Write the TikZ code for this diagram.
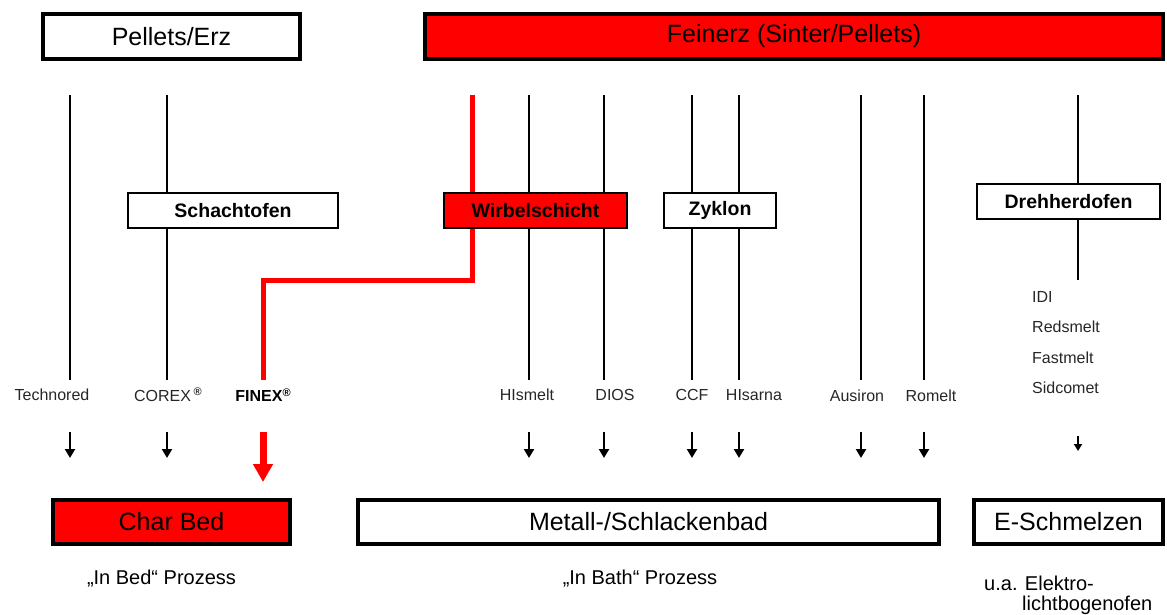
\documentclass[tikz,border=0pt]{standalone}
\usepackage{fontspec}
\setmainfont{Liberation Sans}
\usetikzlibrary{arrows.meta}
\definecolor{pred}{RGB}{255,0,0}
\tikzset{
  bigbox/.style={draw=black, line width=4pt, inner sep=0pt, font=\fontsize{25}{28}\selectfont},
  midbox/.style={draw=black, line width=2pt, fill=white, inner sep=0pt, font=\fontsize{19.5}{22}\selectfont\bfseries},
  vline/.style={line width=2.5pt, black},
  redline/.style={line width=5pt, pred},
  lbl/.style={inner sep=0pt, text=black!85, font=\fontsize{16}{18}\selectfont},
  note/.style={inner sep=0pt, font=\fontsize{20}{22}\selectfont},
  arr/.style={line width=2.5pt, -{Triangle[width=10pt,length=9pt]}},
  smallarr/.style={line width=2.2pt, -{Triangle[width=8pt,length=7pt]}},
  redarr/.style={line width=7pt, pred, -{Triangle[width=19pt,length=18pt]}}
}
\begin{document}
\begin{tikzpicture}[x=1pt,y=-1pt]
\useasboundingbox (0,0) rectangle (1167,614);
% top coordinates and line ends
\foreach \n/\x in {technored/70, corex/167, hismelt/529, dios/604, ccf/692, hisarna/739, ausiron/861, romelt/924, dreh/1078, finexTop/472}{
  \coordinate (\n-t) at (\x,95);
}
\foreach \n/\x in {technored/70, corex/167, hismelt/529, dios/604, ccf/692, hisarna/739, ausiron/861, romelt/924}{
  \coordinate (\n-b) at (\x,380);
  \coordinate (\n-a1) at (\x,432);
  \coordinate (\n-a2) at (\x,458);
}
\coordinate (dreh-b) at (1078,280);
\coordinate (dreh-a1) at (1078,436);
\coordinate (dreh-a2) at (1078,451);
\coordinate (bend1) at (472,280);
\coordinate (bend2) at (263,280);
\coordinate (finex-b) at (263,380);
\coordinate (finex-a1) at (263,432);
\coordinate (finex-a2) at (263,482);

% vertical lines (behind boxes)
\foreach \n in {technored, corex, hismelt, dios, ccf, hisarna, ausiron, romelt, dreh}{
  \draw[vline] (\n-t) -- (\n-b);
}
\draw[redline] (finexTop-t) -- (bend1) -- (bend2) -- (finex-b);

% top boxes
\node[bigbox, fill=white, minimum width=257pt, minimum height=45pt] (pellets) at (171.5,36.5) {Pellets/Erz};
\node[bigbox, fill=pred, minimum width=738pt, minimum height=45pt] (feinerz) at (794,36.5) {Feinerz (Sinter/Pellets)};

% middle boxes
\node[midbox, minimum width=210pt, minimum height=35pt] (schacht) at (233,210.5) {Schachtofen};
\node[midbox, fill=pred, minimum width=183pt, minimum height=35pt] (wirbel) at (535.5,210.5) {Wirbelschicht};
\node[midbox, minimum width=112pt, minimum height=35pt] (zyklon) at (720,210.5) {Zyklon};
\node[midbox, minimum width=183pt, minimum height=35pt] (drehherd) at (1068.5,201.5) {Drehherdofen};

% process labels
\node[lbl] (l-technored) at (52,395) {Technored};
\node[lbl] (l-corex) at (168,395) {COREX\,\raisebox{0.35em}{\fontsize{11}{12}\selectfont\bfseries ®}};
\node[lbl, text=black, font=\fontsize{16}{18}\selectfont\bfseries] (l-finex) at (263,395) {FINEX\raisebox{0.35em}{\fontsize{11}{12}\selectfont ®}};
\node[lbl] (l-hismelt) at (527,395) {HIsmelt};
\node[lbl] (l-dios) at (615,395) {DIOS};
\node[lbl] (l-ccf) at (692,395) {CCF};
\node[lbl] (l-hisarna) at (754,395) {HIsarna};
\node[lbl] (l-ausiron) at (857,396) {Ausiron};
\node[lbl] (l-romelt) at (931,396) {Romelt};
\node[lbl, anchor=west] (l-idi) at (1032,297) {IDI};
\node[lbl, anchor=west] (l-redsmelt) at (1032,327) {Redsmelt};
\node[lbl, anchor=west] (l-fastmelt) at (1032,358) {Fastmelt};
\node[lbl, anchor=west] (l-sidcomet) at (1032,388) {Sidcomet};

% arrows
\foreach \n in {technored, corex, hismelt, dios, ccf, hisarna, ausiron, romelt}{
  \draw[arr] (\n-a1) -- (\n-a2);
}
\draw[smallarr] (dreh-a1) -- (dreh-a2);
\draw[redarr] (finex-a1) -- (finex-a2);

% bottom boxes
\node[bigbox, fill=pred, minimum width=237pt, minimum height=44pt] (charbed) at (171.5,522) {Char Bed};
\node[bigbox, fill=white, minimum width=581pt, minimum height=44pt] (metall) at (648.5,522) {Metall-/Schlackenbad};
\node[bigbox, fill=white, minimum width=189pt, minimum height=44pt] (eschm) at (1068.5,522) {E-Schmelzen};

% notes
\node[note] (n-bed) at (161.5,579) {„In Bed“ Prozess};
\node[note] (n-bath) at (640,579) {„In Bath“ Prozess};
\node[note, anchor=west] (n-ua) at (984,583) {u.a. Elektro-};
\node[note, anchor=west] (n-licht) at (1022,605) {lichtbogenofen};
\end{tikzpicture}
\end{document}
